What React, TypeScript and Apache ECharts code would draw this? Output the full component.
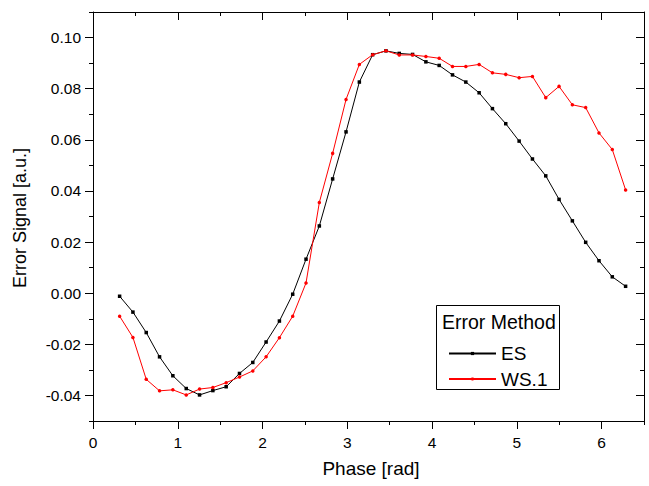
import React, { useEffect, useRef } from "react";
import * as echarts from "echarts";

const phase = [
  0.314, 0.471, 0.628, 0.785, 0.942, 1.1, 1.257, 1.414, 1.571, 1.728, 1.885, 2.042, 2.199,
  2.356, 2.513, 2.67, 2.827, 2.985, 3.142, 3.299, 3.456, 3.613, 3.77, 3.927, 4.084, 4.241,
  4.398, 4.555, 4.712, 4.869, 5.027, 5.184, 5.341, 5.498, 5.655, 5.812, 5.969, 6.126, 6.283,
];

const esValues = [
  -0.0012, -0.0074, -0.0154, -0.0249, -0.0323, -0.0373, -0.0398, -0.0381, -0.0366, -0.0314,
  -0.0271, -0.0191, -0.0109, -0.0004, 0.0133, 0.0263, 0.0447, 0.0631, 0.0826, 0.0933, 0.0948,
  0.0938, 0.0934, 0.0905, 0.0891, 0.0854, 0.0826, 0.0784, 0.0722, 0.0663, 0.0595, 0.0525,
  0.0459, 0.0367, 0.0283, 0.0199, 0.0127, 0.0064, 0.0027,
];

const wsValues = [
  -0.009, -0.0173, -0.0337, -0.0382, -0.0378, -0.0398, -0.0375, -0.0369, -0.035, -0.0328,
  -0.0304, -0.0249, -0.0174, -0.009, 0.004, 0.0355, 0.0547, 0.0758, 0.0895, 0.0933, 0.0948,
  0.0932, 0.0932, 0.0926, 0.0919, 0.0887, 0.0887, 0.0895, 0.0862, 0.0856, 0.0843, 0.0848,
  0.0765, 0.0809, 0.0737, 0.0726, 0.0627, 0.0562, 0.0404,
];

const seriesNames = ["ES", "WS.1"];
const legendTitle = "Error Method";
const xTitle = "Phase [rad]";
const yTitle = "Error Signal [a.u.]";

const FONT = "'Liberation Sans', Arial, sans-serif";

export default function App() {
  const ref = useRef<HTMLDivElement>(null);
  useEffect(() => {
    if (!ref.current) return;
    const chart = echarts.init(ref.current, undefined, { renderer: "svg" });
    const W = 649;
    const H = 486;
    const gl = 93, gr = 5, gt = 12, gb = 65;
    const xMin = 0, xMax = 6.5, yMin = -0.05, yMax = 0.11;
    const pw = W - gl - gr;
    const ph = H - gt - gb;
    const pxPerX = pw / (xMax - xMin);
    const pxPerY = ph / (yMax - yMin);
    const mRight = W - (gl + 6 * pxPerX);
    const mTop = gt + (yMax - 0.1) * pxPerY;
    const mBottom = gb + (-0.04 - yMin) * pxPerY;
    const offBottom = (-0.04 - yMin) * pxPerY;
    const offTop = (yMax - 0.1) * pxPerY;
    const offRight = mRight - gr;

    const black = "#000";
    const lineAx = { show: true, onZero: false, lineStyle: { color: black, width: 1 } };
    const noLine = { show: false, onZero: false };

    chart.setOption({
      animation: false,
      backgroundColor: "#fff",
      grid: [
        { left: gl, right: gr, top: gt, bottom: gb },
        { left: gl, right: mRight, top: mTop, bottom: mBottom },
      ],
      xAxis: [
        {
          gridIndex: 0, type: "value", position: "bottom", min: xMin, max: xMax, interval: 0.5,
          axisLine: lineAx, axisTick: { show: true, length: 4, inside: false, lineStyle: { color: black } },
          axisLabel: { show: false }, splitLine: { show: false },
        },
        {
          gridIndex: 0, type: "value", position: "top", min: xMin, max: xMax, interval: 0.5,
          axisLine: lineAx, axisTick: { show: true, length: 4, inside: true, lineStyle: { color: black } },
          axisLabel: { show: false }, splitLine: { show: false },
        },
        {
          gridIndex: 1, type: "value", position: "bottom", min: 0, max: 6, interval: 1, offset: offBottom,
          axisLine: noLine, axisTick: { show: true, length: 8, inside: false, lineStyle: { color: black } },
          axisLabel: { show: true, color: black, fontSize: 15.5, fontFamily: FONT, margin: 13 },
          splitLine: { show: false },
        },
        {
          gridIndex: 1, type: "value", position: "top", min: 0, max: 6, interval: 1, offset: offTop,
          axisLine: noLine, axisTick: { show: true, length: 8, inside: true, lineStyle: { color: black } },
          axisLabel: { show: false }, splitLine: { show: false },
        },
      ],
      yAxis: [
        {
          gridIndex: 0, type: "value", position: "left", min: yMin, max: yMax, interval: 0.01,
          axisLine: lineAx, axisTick: { show: true, length: 4, inside: false, lineStyle: { color: black } },
          axisLabel: { show: false }, splitLine: { show: false },
        },
        {
          gridIndex: 0, type: "value", position: "right", min: yMin, max: yMax, interval: 0.01,
          axisLine: lineAx, axisTick: { show: true, length: 4, inside: true, lineStyle: { color: black } },
          axisLabel: { show: false }, splitLine: { show: false },
        },
        {
          gridIndex: 1, type: "value", position: "left", min: -0.04, max: 0.1, interval: 0.02,
          axisLine: noLine, axisTick: { show: true, length: 8, inside: false, lineStyle: { color: black } },
          axisLabel: {
            show: true, color: black, fontSize: 15.5, fontFamily: FONT, margin: 12,
            formatter: (v: number) => v.toFixed(2),
          },
          splitLine: { show: false },
        },
        {
          gridIndex: 1, type: "value", position: "right", min: -0.04, max: 0.1, interval: 0.02, offset: offRight,
          axisLine: noLine, axisTick: { show: true, length: 8, inside: true, lineStyle: { color: black } },
          axisLabel: { show: false }, splitLine: { show: false },
        },
      ],
      legend: [
        {
          data: [seriesNames[0]], orient: "vertical", left: 448, top: 344, padding: 0,
          itemWidth: 47, itemHeight: 4, z: 10,
          textStyle: { color: black, fontSize: 19, fontFamily: FONT },
        },
        {
          data: [seriesNames[1]], orient: "vertical", left: 448, top: 369.5, padding: 0,
          itemWidth: 47, itemHeight: 4, z: 10,
          textStyle: { color: black, fontSize: 19, fontFamily: FONT },
        },
      ],
      graphic: [
        {
          type: "rect", shape: { x: 436.5, y: 305.5, width: 123, height: 84 },
          style: { fill: "none", stroke: black, lineWidth: 1 }, z: 5,
        },
        {
          type: "text", x: 442, y: 322, z: 6,
          style: { text: legendTitle, fill: black, font: `19.5px ${FONT}`, textAlign: "left", textVerticalAlign: "middle" },
        },
        {
          type: "text", x: 371, y: 468, z: 6,
          style: { text: xTitle, fill: black, font: `19px ${FONT}`, textAlign: "center", textVerticalAlign: "middle" },
        },
        {
          type: "text", x: 20, y: 218, rotation: Math.PI / 2, z: 6,
          style: { text: yTitle, fill: black, font: `18px ${FONT}`, textAlign: "center", textVerticalAlign: "middle" },
        },
      ],
      series: [
        {
          name: seriesNames[0], type: "line", xAxisIndex: 0, yAxisIndex: 0,
          data: phase.map((x, i) => [x, esValues[i]]),
          symbol: "rect", symbolSize: 3.5, showSymbol: true,
          lineStyle: { color: black, width: 1 }, itemStyle: { color: black },
          z: 3,
        },
        {
          name: seriesNames[1], type: "line", xAxisIndex: 0, yAxisIndex: 0,
          data: phase.map((x, i) => [x, wsValues[i]]),
          symbol: "circle", symbolSize: 3.5, showSymbol: true,
          lineStyle: { color: "#ff0000", width: 1 }, itemStyle: { color: "#ff0000" },
          z: 4,
        },
      ],
    });
    return () => chart.dispose();
  }, []);
  return <div ref={ref} style={{ width: 649, height: 486, position: "absolute", left: 0, top: 0 }} />;
}
